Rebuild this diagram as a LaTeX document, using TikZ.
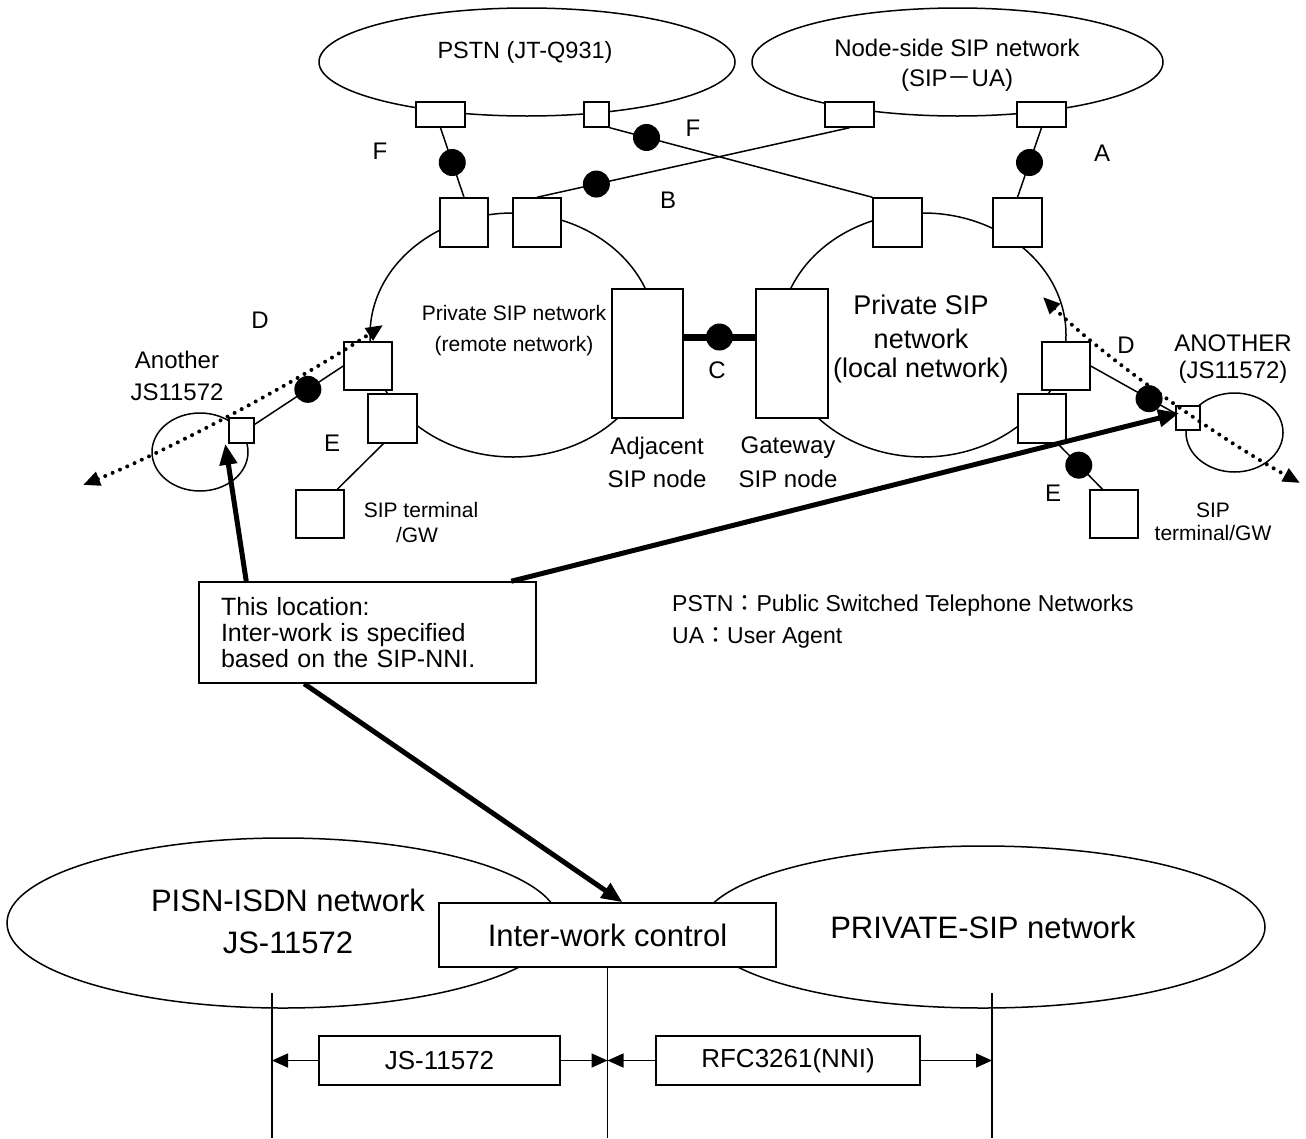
\documentclass[tikz,border=0pt]{standalone}
\usepackage{fontspec}
\setmainfont{Liberation Sans}
\newfontfamily\cjk{Noto Sans CJK JP}
\usetikzlibrary{arrows.meta,shapes.geometric}
\begin{document}
\begin{tikzpicture}[x=1pt,y=-1pt,
  net/.style={ellipse,draw,line width=1.5pt,inner sep=0pt},
  sq/.style={draw,fill=white,line width=1.5pt,inner sep=0pt},
  blob/.style={circle,fill=black,inner sep=0pt,minimum size=27pt},
  conn/.style={line width=1.5pt},
  txt/.style={inner sep=0pt},
  fa/.style={font=\fontsize{24}{28}\selectfont},
  fb/.style={font=\fontsize{21}{25}\selectfont},
  fg/.style={font=\fontsize{23}{27}\selectfont},
  fc/.style={font=\fontsize{27}{31}\selectfont},
  fd/.style={font=\fontsize{31}{36}\selectfont},
  fe/.style={font=\fontsize{26}{30}\selectfont},
  bigarrow/.style={line width=5pt,-{Triangle[length=21pt,width=17pt]}},
  dotline/.style={line width=4pt,line cap=round,dash pattern=on 0pt off 8pt,{Triangle[length=17pt,width=14pt]}-{Triangle[length=17pt,width=14pt]}},
  dimarrow/.style={line width=1.6pt,-{Triangle[length=16pt,width=14pt]}}
]
\useasboundingbox (0,0) rectangle (1306,1138);

% ellipses (networks)
\node[net,minimum width=416pt,minimum height=108pt] (pstn) at (527,62) {};
\node[net,minimum width=411pt,minimum height=108pt] (nss) at (957.5,62) {};
\node[net,minimum width=286pt,minimum height=244pt] (rem) at (513,335) {};
\node[net,minimum width=286pt,minimum height=244pt] (loc) at (923,335) {};
\node[net,minimum width=96pt,minimum height=78pt] (anA) at (200,452) {};
\node[net,minimum width=97pt,minimum height=79pt] (anB) at (1234.5,432.5) {};
\node[net,minimum width=552pt,minimum height=170pt] (pisn) at (283,923) {};
\node[net,minimum width=564pt,minimum height=162pt] (psip) at (983,927) {};

% boxes
\node[sq,minimum width=49pt,minimum height=25pt] (ps1) at (440.5,114.5) {};
\node[sq,minimum width=25pt,minimum height=25pt] (ps2) at (596.5,114.5) {};
\node[sq,minimum width=49pt,minimum height=25pt] (ns1) at (849.5,114.5) {};
\node[sq,minimum width=49pt,minimum height=25pt] (ns2) at (1041.5,114.5) {};
\node[sq,minimum width=48pt,minimum height=49pt] (r1) at (464,222.5) {};
\node[sq,minimum width=48pt,minimum height=49pt] (r2) at (537,222.5) {};
\node[sq,minimum width=49pt,minimum height=49pt] (l3) at (897.5,222.5) {};
\node[sq,minimum width=49pt,minimum height=49pt] (l4) at (1017.5,222.5) {};
\node[sq,minimum width=71pt,minimum height=129pt] (adj) at (647.5,353.5) {};
\node[sq,minimum width=72pt,minimum height=129pt] (gw) at (792,353.5) {};
\node[sq,minimum width=48pt,minimum height=48pt] (r5) at (368,366) {};
\node[sq,minimum width=49pt,minimum height=49pt] (r6) at (392.5,418.5) {};
\node[sq,minimum width=25pt,minimum height=25pt] (ja) at (241.5,430.5) {};
\node[sq,minimum width=48pt,minimum height=48pt] (st1) at (320,514) {};
\node[sq,minimum width=48pt,minimum height=48pt] (l7) at (1066,366) {};
\node[sq,minimum width=48pt,minimum height=49pt] (l8) at (1042,418.5) {};
\node[sq,minimum width=24pt,minimum height=24pt] (jb) at (1188,418) {};
\node[sq,minimum width=48pt,minimum height=48pt] (st2) at (1114,514) {};

\node[sq,text width=293pt,inner xsep=22pt,minimum height=101pt,align=left,font=\fontsize{25}{26}\selectfont] (tb) at (367.5,632.5) {This location:\\Inter-work is specified\\based on the SIP-NNI.};
\node[sq,fd,minimum width=337pt,minimum height=64pt] (iw) at (607.5,935) {Inter-work control};
\node[sq,fe,minimum width=241pt,minimum height=49pt] (js) at (439.5,1060.5) {JS-11572};
\node[sq,fe,minimum width=264pt,minimum height=49pt] (rfc) at (788,1060.5) {RFC3261(NNI)};

% texts
\node[txt,font=\fontsize{23.5}{28}\selectfont] (tpstn) at (525,52) {PSTN (JT-Q931)};
\node[txt,fa] (tns1) at (957,48) {Node-side SIP network};
\node[txt,fa] (tns2) at (957,80) {(SIP{\cjk －}UA)};
\node[txt,fa] (lf1) at (380,151) {F};
\node[txt,fa] (lf2) at (693,128) {F};
\node[txt,fa] (lb) at (668,200) {B};
\node[txt,fa] (la) at (1102,153) {A};
\node[txt,fa] (lc) at (717,370) {C};
\node[txt,fa] (ld1) at (260,320) {D};
\node[txt,fa] (ld2) at (1126,345) {D};
\node[txt,fa] (le1) at (332,443) {E};
\node[txt,fa] (le2) at (1053,493) {E};
\node[txt,fb] (trm1) at (514,313) {Private SIP network};
\node[txt,fb] (trm2) at (514,346) {(remote network)};
\node[txt,fc] (tlc1) at (921,305) {Private SIP};
\node[txt,fc] (tlc2) at (921,339) {network};
\node[txt,fc] (tlc3) at (921,371) {(local network)};
\node[txt,fa] (tad1) at (657,448) {Adjacent};
\node[txt,fa] (tad2) at (657,479) {SIP node};
\node[txt,fa] (tgw1) at (788,448) {Gateway};
\node[txt,fa] (tgw2) at (788,479) {SIP node};
\node[txt,fa] (tan1) at (177,360) {Another};
\node[txt,fa] (tan2) at (177,392) {JS11572};
\node[txt,fa] (tAN1) at (1233,343) {ANOTHER};
\node[txt,fa] (tAN2) at (1233,372) {(JS11572)};
\node[txt,fb] (tst1) at (421,510) {SIP terminal};
\node[txt,fb] (tst2) at (417,535) {/GW};
\node[txt,fb] (tsr1) at (1213,510) {SIP};
\node[txt,fb] (tsr2) at (1213,533) {terminal/GW};
\node[txt,fg,anchor=west] (leg1) at (672,606) {PSTN{\cjk ：}Public Switched Telephone Networks};
\node[txt,fg,anchor=west] (leg2) at (672,638) {UA{\cjk ：}User Agent};
\node[txt,fd] (tpi1) at (288,900) {PISN-ISDN network};
\node[txt,fd] (tpi2) at (288,943) {JS-11572};
\node[txt,fd] (tps) at (983,927) {PRIVATE-SIP network};

% connectors
\draw[conn] (ps1.south) -- node[blob,pos=0.5] (d1) {} (r1.north);
\draw[conn] (ps2.south east) -- node[blob,pos=0.14] (d2) {} (l3.north west);
\draw[conn] (ns1.south) -- node[blob,pos=0.81] (d3) {} (r2.north);
\draw[conn] (ns2.south) -- node[blob,pos=0.5] (d4) {} (l4.north);
\draw[conn] (ja.25) -- node[blob,pos=0.6] (d5) {} (r5.west);
\draw[conn] (r6.-110) -- (st1.55);
\draw[conn] (l7.east) -- node[blob,pos=0.69] (d7) {} (jb.160);
\draw[conn] (l8.-58) -- node[blob,pos=0.47] (d8) {} (st2.115);
\draw[line width=7pt] ([yshift=16.5pt]adj.east) -- node[blob,pos=0.5] (dc) {} ([yshift=16.5pt]gw.west);

% dotted arrows
\coordinate (dla) at (83,485);
\coordinate (dlb) at (383,325);
\draw[dotline] (dla) .. controls (170,450) and (300,380) .. (dlb);
\coordinate (dra) at (1043,297);
\coordinate (drb) at (1300,483);
\draw[dotline] (dra) .. controls (1103,357) and (1220,439) .. (drb);

% thick arrows
\draw[bigarrow] ([xshift=48pt]tb.north west) -- ([xshift=-3pt]ja.south west);
\draw[bigarrow] ([xshift=313pt]tb.north west) -- ([xshift=4pt,yshift=5pt]jb.west);
\draw[bigarrow] ([xshift=106pt]tb.south west) -- ([xshift=15pt]iw.north);

% bottom reference lines
\coordinate (v1t) at (272,993);
\coordinate (v1b) at (272,1138);
\coordinate (v2b) at (607.5,1138);
\coordinate (v3t) at (992,993);
\coordinate (v3b) at (992,1138);
\draw[line width=1.6pt] (v1t) -- (v1b);
\draw[line width=1.6pt] (iw.south) -- (v2b);
\draw[line width=1.6pt] (v3t) -- (v3b);
\draw[dimarrow] (js.west) -- (js.west -| v1t);
\draw[dimarrow] (js.east) -- (js.east -| v2b);
\draw[dimarrow] (rfc.west) -- (rfc.west -| v2b);
\draw[dimarrow] (rfc.east) -- (rfc.east -| v3t);
\end{tikzpicture}
\end{document}
